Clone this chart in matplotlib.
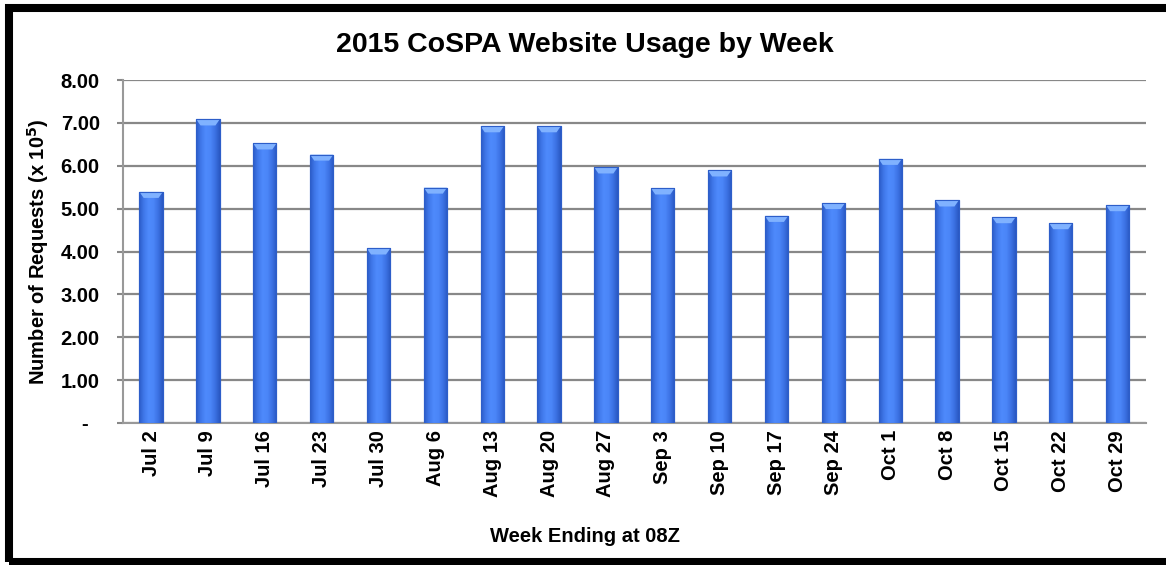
import matplotlib
matplotlib.use("Agg")
import matplotlib.pyplot as plt
import numpy as np
from matplotlib.patches import Rectangle, Polygon
from matplotlib.colors import LinearSegmentedColormap

weeks = ["Jul 2", "Jul 9", "Jul 16", "Jul 23", "Jul 30", "Aug 6", "Aug 13", "Aug 20",
         "Aug 27", "Sep 3", "Sep 10", "Sep 17", "Sep 24", "Oct 1", "Oct 8", "Oct 15",
         "Oct 22", "Oct 29"]
requests = [5.39, 7.08, 6.52, 6.26, 4.07, 5.49, 6.92, 6.92, 5.96, 5.47, 5.89, 4.83,
            5.13, 6.16, 5.19, 4.80, 4.66, 5.08]
yticks = [0, 1, 2, 3, 4, 5, 6, 7, 8]
ytick_labels = ["-  ", "1.00", "2.00", "3.00", "4.00", "5.00", "6.00", "7.00", "8.00"]

plt.rcParams['font.family'] = ['Liberation Sans', 'DejaVu Sans']

W, H = 1166, 565
fig = plt.figure(figsize=(W / 100, H / 100), dpi=100)
ax = fig.add_axes([122.7 / W, 1 - 423 / H, (1146 - 122.7) / W, (423 - 80) / H])

x = np.arange(len(weeks))
width = 0.41
bars = ax.bar(x, requests, width=width, color='#4a84f4', edgecolor='#2d5ec9',
              linewidth=0.8, zorder=3)

cmap = LinearSegmentedColormap.from_list(
    "barg", ["#2c5cc8", "#4078ea", "#4e8afc", "#4b86f8", "#3c72e4", "#2a58c2"])
grad = np.linspace(0, 1, 64).reshape(1, -1)
for b in bars:
    x0, w, h = b.get_x(), b.get_width(), b.get_height()
    im = ax.imshow(grad, extent=[x0, x0 + w, 0, h], aspect='auto', cmap=cmap,
                   zorder=3.5, interpolation='bilinear')
    im.set_clip_path(b)
    cap = 0.14
    ax.add_patch(Polygon([[x0, h], [x0 + w, h], [x0 + w * 0.82, h - cap],
                          [x0 + w * 0.18, h - cap]], closed=True,
                         facecolor='#80b2ff', edgecolor='none', zorder=4))
    ax.add_patch(Rectangle((x0, 0), w, h, facecolor='none', edgecolor='#2d5ec9',
                           linewidth=0.8, zorder=4.5))

ax.set_xlim(-0.5, len(weeks) - 0.5)
ax.set_ylim(0, 8)
ax.set_yticks(yticks)
ax.set_yticklabels(ytick_labels, fontsize=14.5, fontweight='bold')
ax.set_xticks(x)
ax.set_xticklabels(weeks, rotation=90, fontsize=14.5, fontweight='bold')
ax.tick_params(axis='x', length=0, pad=5)
ax.tick_params(axis='y', length=4.5, width=1.5, color='#888888', pad=12)
ax.grid(axis='y', color='#888888', linewidth=1.6, zorder=1)
ax.set_axisbelow(True)
for s in ['top', 'right']:
    ax.spines[s].set_visible(False)
ax.spines['left'].set_color('#999999')
ax.spines['left'].set_linewidth(1.5)
ax.spines['bottom'].set_color('#999999')
ax.spines['bottom'].set_linewidth(1.5)

fig.text(585 / W, 1 - 45 / H, "2015 CoSPA Website Usage by Week", ha='center',
         va='center', fontsize=20.5, fontweight='bold')
fig.text(585 / W, 1 - 537 / H, "Week Ending at 08Z", ha='center', va='center',
         fontsize=14.5, fontweight='bold')
fig.text(38 / W, 1 - 252 / H, r"Number of Requests (x 10$^{\mathbf{5}}$)", ha='center',
         va='center', rotation=90, fontsize=14.5, fontweight='bold')

fig.patches.append(Rectangle((9 / W, 1 - 562 / H), (1168 - 9) / W, (562 - 8) / H,
                             transform=fig.transFigure, fill=False,
                             edgecolor='black', linewidth=5.8))

fig.savefig("out.png", dpi=100)
